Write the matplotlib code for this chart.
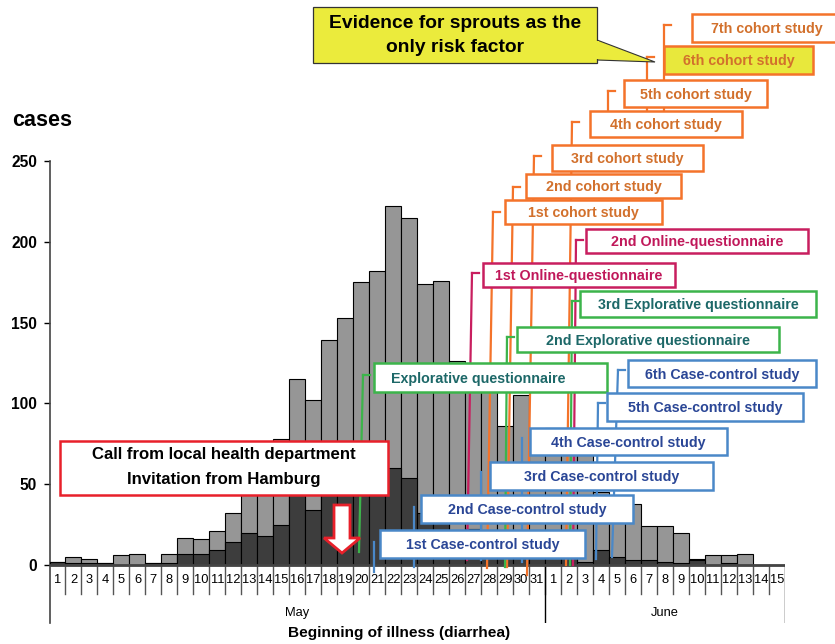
import numpy as np
import matplotlib
matplotlib.use("Agg")
import matplotlib.pyplot as plt
from matplotlib.patches import Rectangle, Polygon

plt.rcParams['font.family'] = 'Liberation Sans'

# daily case counts by onset of diarrhea, 1 May - 15 June
day_labels = list(range(1, 32)) + list(range(1, 16))
total_cases = [2, 5, 4, 1, 6, 7, 1, 7, 17, 16, 21, 32, 47, 55, 78, 115, 102, 139, 153, 175,
               182, 222, 215, 174, 176, 126, 112, 108, 86, 105, 80,
               85, 85, 80, 45, 40, 38, 24, 24, 20, 4, 6, 6, 7, 0, 0]
dark_cases = [2, 1, 1, 1, 0, 0, 1, 1, 7, 7, 9, 14, 20, 18, 25, 44, 34, 46, 48, 52,
              56, 60, 54, 32, 28, 20, 22, 18, 15, 12, 10,
              8, 8, 2, 9, 5, 3, 3, 2, 1, 3, 0, 1, 0, 0, 0]
months = ['May', 'June']
month_len = [31, 15]

# study boxes: text, x0, y0, x1, y1 (figure pixels)
cohort_boxes = [
    ('1st cohort study', 505, 200, 662, 224),
    ('2nd cohort study', 526, 174, 681, 198),
    ('3rd cohort study', 552, 145, 703, 171),
    ('4th cohort study', 590, 111, 742, 137),
    ('5th cohort study', 624, 80, 767, 107),
    ('6th cohort study', 664, 46, 813, 74),
    ('7th cohort study', 692, 14, 842, 42),
]
online_boxes = [
    ('1st Online-questionnaire', 483, 263, 675, 287),
    ('2nd Online-questionnaire', 586, 229, 808, 253),
]
explor_boxes = [
    ('Explorative questionnaire', 374, 363, 607, 392),
    ('2nd Explorative questionnaire', 517, 327, 779, 352),
    ('3rd Explorative questionnaire', 580, 291, 816, 317),
]
case_boxes = [
    ('1st Case-control study', 380, 530, 585, 558),
    ('2nd Case-control study', 421, 495, 633, 523),
    ('3rd Case-control study', 490, 462, 713, 490),
    ('4th Case-control study', 530, 428, 727, 455),
    ('5th Case-control study', 607, 393, 803, 421),
    ('6th Case-control study', 628, 360, 816, 387),
]
# connector lines: x_top, y_top, x_bottom, y_bottom, tick at top
cohort_lines = [(493, 212, 487, 568, True), (513, 187, 507, 567, True), (534, 156, 527, 575, True),
                (572, 122, 566, 565, True), (608, 91, 608, 115, True), (647, 57, 647, 115, True),
                (664, 25, 664, 115, True)]
online_lines = [(472, 273, 467, 560, True), (576, 240, 573, 565, True)]
explor_lines = [(363, 375, 359, 552, True), (507, 337, 505, 567, True), (572, 301, 570, 565, True)]
case_lines = [(374, 542, 374, 572, False), (414, 507, 414, 567, False), (481, 472, 481, 560, False),
              (522, 438, 522, 562, False), (598, 403, 596, 559, True), (618, 370, 612, 557, True)]

W, H = 835, 644
fig = plt.figure(figsize=(W / 100, H / 100), dpi=100)

# main chart axes: 0 cases at y=565 px, 250 at y=161 px
px_per_case = (565 - 161) / 250
ymin = -(623 - 565) / px_per_case
ax = fig.add_axes([49.5 / W, (H - 623) / H, (785 - 49.5) / W, (623 - 161) / H])
n = len(total_cases)
x = np.arange(n) + 0.5
ax.bar(x, total_cases, width=1, color='#969696', edgecolor='black', linewidth=0.8, zorder=2)
ax.bar(x, dark_cases, width=1, color='#3d3d3d', edgecolor='black', linewidth=0.8, zorder=3)
ax.axhline(0, color='#444444', linewidth=2, zorder=4)
ax.set_xlim(0, n)
ax.set_ylim(ymin, 250)
ax.set_yticks([0, 50, 100, 150, 200, 250])
ax.tick_params(axis='y', length=4, width=1, pad=5, labelsize=11.2)
for lab in ax.get_yticklabels():
    lab.set_fontweight('bold')
ax.set_xticks([])
for s in ['top', 'right', 'bottom']:
    ax.spines[s].set_visible(False)
ax.spines['left'].set_color('#444444')
ax.spines['left'].set_linewidth(1.2)

cell_bottom = -(594 - 565) / px_per_case
for i in range(1, n):
    ax.plot([i, i], [0, cell_bottom], color='#555555', linewidth=1, zorder=1)
for i, d in enumerate(day_labels):
    ax.text(i + 0.5, -9.3, str(d), ha='center', va='center', fontsize=9.3)
start = 0
for m, ln in zip(months, month_len):
    ax.plot([start + ln, start + ln], [0, ymin], color='black', linewidth=1)
    ax.text(start + ln / 2, -29.5, m, ha='center', va='center', fontsize=9.3)
    start += ln
ax.text(-2.35, 275, 'cases', fontsize=15.5, fontweight='bold', ha='left', va='center')
fig.text(399 / W, 1 - 633 / H, 'Beginning of illness (diarrhea)', fontsize=11.1,
         fontweight='bold', ha='center', va='center')

# annotation overlay in pixel coordinates
ov = fig.add_axes([0, 0, 1, 1], zorder=5)
ov.set_xlim(0, W)
ov.set_ylim(H, 0)
ov.axis('off')
ov.patch.set_alpha(0)


def draw_lines(lines, color):
    for xt, yt, xb, yb, tick in lines:
        ov.plot([xt, xb], [yt, yb], color=color, linewidth=1.6, zorder=1)
        if tick:
            ov.plot([xt, xt + 7], [yt, yt], color=color, linewidth=1.6, zorder=1)


def draw_boxes(boxes, edge, tcolor, face='white', centers=None):
    for k, (txt, x0, y0, x1, y1) in enumerate(boxes):
        fc = face[k] if isinstance(face, list) else face
        ov.add_patch(Rectangle((x0, y0), x1 - x0, y1 - y0, facecolor=fc, edgecolor=edge,
                               linewidth=1.8, zorder=3))
        cx = centers[k] if centers and centers[k] else (x0 + x1) / 2
        ov.text(cx, (y0 + y1) / 2 + 1, txt, color=tcolor, fontsize=10.3, fontweight='bold',
                ha='center', va='center', zorder=4)


draw_lines(cohort_lines, '#f4732a')
draw_lines(online_lines, '#c81e5f')
draw_lines(explor_lines, '#3cb44b')
draw_lines(case_lines, '#4a88c8')

draw_boxes(cohort_boxes, '#f4732a', '#d2702c',
           face=['white'] * 5 + ['#e8e83c', 'white'],
           centers=[None] * 6 + [767])
draw_boxes(online_boxes, '#c81e5f', '#c0185a')
draw_boxes(explor_boxes, '#3cb44b', '#1d6868', centers=[478, None, None])
draw_boxes(case_boxes, '#4a88c8', '#2a4696')

# red box and arrow
ov.add_patch(Rectangle((60, 441), 328, 54, facecolor='white', edgecolor='#e8202a',
                       linewidth=1.8, zorder=3))
ov.text(224, 454, 'Call from local health department', fontsize=12.1, fontweight='bold',
        ha='center', va='center', zorder=4)
ov.text(224, 479, 'Invitation from Hamburg', fontsize=12.1, fontweight='bold',
        ha='center', va='center', zorder=4)
ov.add_patch(Polygon([(334, 505), (350, 505), (350, 538), (360, 538), (342, 553),
                      (324, 538), (334, 538)], closed=True, facecolor='white',
                     edgecolor='#e8202a', linewidth=2, zorder=3))

# yellow callout
ov.add_patch(Polygon([(597, 40), (655, 62), (597, 60)], closed=True, facecolor='#ebeb3c',
                     edgecolor='#333333', linewidth=0.8, zorder=3))
ov.add_patch(Rectangle((313, 7), 284, 56, facecolor='#ebeb3c', edgecolor='#333333',
                       linewidth=0.9, zorder=3))
ov.add_patch(Rectangle((596, 41), 3, 18, facecolor='#ebeb3c', edgecolor='none', zorder=3))
ov.text(455, 23, 'Evidence for sprouts as the', fontsize=13.9, fontweight='bold',
        ha='center', va='center', zorder=4)
ov.text(455, 47, 'only risk factor', fontsize=13.9, fontweight='bold',
        ha='center', va='center', zorder=4)

fig.savefig('out.png', dpi=100)
